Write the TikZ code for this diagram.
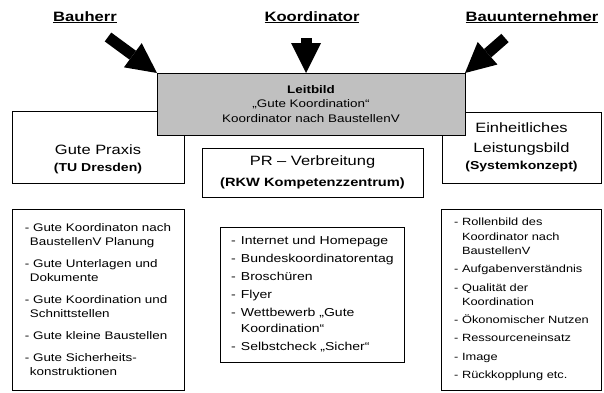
\documentclass[tikz,border=0pt]{standalone}
\usepackage{fontspec}
\setmainfont{Liberation Sans}[FakeStretch=1.22]
\usetikzlibrary{arrows.meta, positioning}
\definecolor{leitgray}{RGB}{192,192,192}
\newlength\ulwd
\newcommand\ulbl[1]{\settowidth{\ulwd}{#1}\rlap{\rule[-2.4pt]{\ulwd}{1.3pt}}#1}

\begin{document}
\begin{tikzpicture}[
      x=1pt, y=-1pt,
      every node/.style={inner sep=0pt, outer sep=0pt},
      party/.style={font=\fontsize{13.6}{16}\selectfont\bfseries, anchor=base},
      pushes/.style={line width=11pt, -{Triangle[length=30pt, width=30pt, line width=0pt]}},
      field/.style={draw, line width=.9pt, align=center},
      topic/.style={field, font=\fontsize{13.5}{20}\selectfont},
      listing/.style={field, align=left}
    ]
    \useasboundingbox (0,0) rectangle (604,392);

    % upper row
    \node[topic, anchor=north west, minimum width=172pt, minimum height=72pt] (praxis) at (12,111)
      {\strut\\Gute Praxis\\[-3pt]{\fontsize{11.5}{17}\selectfont\bfseries (TU Dresden)}};
    \node[topic, anchor=north west, minimum width=159pt, minimum height=71pt] (leistung) at (442,112)
      {Einheitliches\\Leistungsbild\\[-3pt]{\fontsize{11.5}{17}\selectfont\bfseries (Systemkonzept)}};
    \node[field, anchor=north west, fill=leitgray, minimum width=308pt, minimum height=62pt,
          font=\fontsize{11}{14.5}\selectfont] (leitbild) at (157,73)
      {{\bfseries Leitbild}\\„Gute Koordination“\\Koordinator nach BaustellenV};
    \node[topic, below=13pt of leitbild, xshift=1.5pt, minimum width=221pt, minimum height=49pt] (pr)
      {PR – Verbreitung\\[1pt]{\fontsize{12}{17}\selectfont\bfseries (RKW Kompetenzzentrum)}};

    % parties and arrows
    \node[party] (bauherr) at (85,21) {\ulbl{Bauherr}};
    \node[party] (koord) at (312,21) {\ulbl{Koordinator}};
    \node[party] (bauu) at (532,21) {\ulbl{Bauunternehmer}};
    \coordinate (bh-tail) at (108,37);
    \coordinate (ko-tail) at (306,38);
    \coordinate (bu-tail) at (505,38);
    \draw[pushes] (bh-tail) -- (leitbild.north west);
    \draw[pushes] (ko-tail) -- (ko-tail |- leitbild.north);
    \draw[pushes] (bu-tail) -- (leitbild.north east);

    % lists
    \node[listing, below=26pt of praxis, minimum width=172pt, minimum height=181pt,
          font=\fontsize{11}{14}\selectfont] (praxislist)
      {- Gute Koordinaton nach\\\hspace*{5pt}BaustellenV Planung\\[8pt]
       - Gute Unterlagen und\\\hspace*{5pt}Dokumente\\[8pt]
       - Gute Koordination und\\\hspace*{5pt}Schnittstellen\\[8pt]
       - Gute kleine Baustellen\\[8pt]
       - Gute Sicherheits-\\\hspace*{5pt}konstruktionen};
    \node[listing, below=30pt of pr, minimum width=184pt, minimum height=135pt,
          font=\fontsize{11.5}{16}\selectfont] (prlist)
      {-\hspace{5pt}Internet und Homepage\\[2pt]
       -\hspace{5pt}Bundeskoordinatorentag\\[2pt]
       -\hspace{5pt}Broschüren\\[2pt]
       -\hspace{5pt}Flyer\\[2pt]
       -\hspace{5pt}Wettbewerb „Gute\\\phantom{-}\hspace{5pt}Koordination“\\[2pt]
       -\hspace{5pt}Selbstcheck „Sicher“};
    \node[listing, below=26pt of leistung, minimum width=160pt, minimum height=181pt,
          font=\fontsize{10.5}{14.3}\selectfont] (leistunglist)
      {- Rollenbild des\\\phantom{- }Koordinator nach\\\phantom{- }BaustellenV\\[4pt]
       - Aufgabenverständnis\\[4pt]
       - Qualität der\\\phantom{- }Koordination\\[4pt]
       - Ökonomischer Nutzen\\[4pt]
       - Ressourceneinsatz\\[4pt]
       - Image\\[4pt]
       - Rückkopplung etc.};
\end{tikzpicture}
\end{document}
